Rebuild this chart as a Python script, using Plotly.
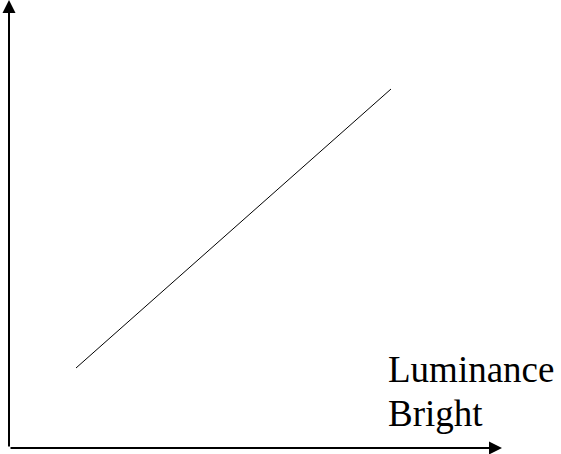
import plotly.graph_objects as go

# Data (axis units, origin at the axes corner)
line_x = [67, 382]
line_y = [80, 359]
x_axis_end = 493
y_axis_end = 448
labels = ["Luminance", "Bright"]
label_x = 377
label_baselines = [66, 22]

fig = go.Figure()
fig.add_trace(go.Scatter(x=line_x, y=line_y, mode="lines",
                         line=dict(color="black", width=1), hoverinfo="skip"))

# axes as arrows
fig.add_annotation(x=0, y=y_axis_end, ax=0, ay=0, xref="x", yref="y", axref="x", ayref="y",
                   showarrow=True, arrowhead=2, arrowsize=1.3, arrowwidth=2, arrowcolor="black", text="")
fig.add_annotation(x=x_axis_end, y=0, ax=0, ay=0, xref="x", yref="y", axref="x", ayref="y",
                   showarrow=True, arrowhead=2, arrowsize=1.3, arrowwidth=2, arrowcolor="black", text="")

for t, b in zip(labels, label_baselines):
    fig.add_annotation(x=label_x, y=b - 10, xref="x", yref="y", text=t, showarrow=False,
                       xanchor="left", yanchor="bottom",
                       font=dict(family="Liberation Serif", size=37, color="black"))

fig.update_layout(width=561, height=454, margin=dict(l=0, r=0, t=0, b=0),
                  plot_bgcolor="white", paper_bgcolor="white", showlegend=False,
                  xaxis=dict(range=[-9, 552], visible=False, fixedrange=True),
                  yaxis=dict(range=[-6, 448], visible=False, fixedrange=True))
fig.write_html("out.html", config={"displayModeBar": False})

with open("out.html", encoding="utf-8") as f:
    html = f.read()
html = html.replace("<head>", "<head><style>html,body{margin:0;padding:0;overflow:hidden;}</style>", 1)
with open("out.html", "w", encoding="utf-8") as f:
    f.write(html)
